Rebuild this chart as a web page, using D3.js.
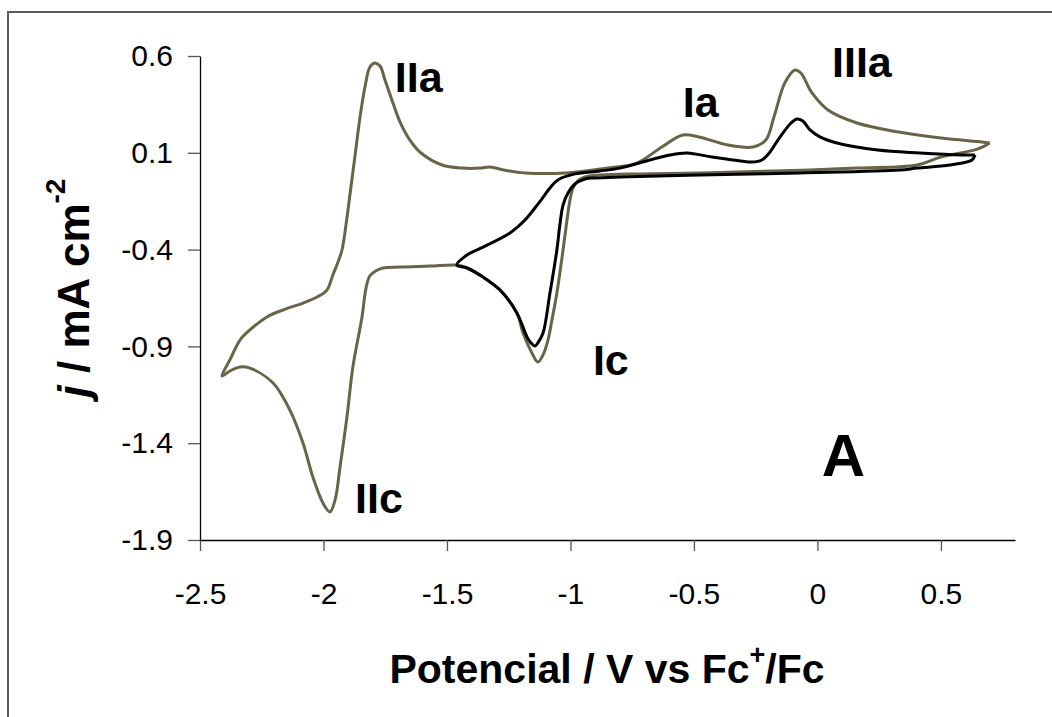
<!DOCTYPE html>
<html>
<head>
<meta charset="utf-8">
<script src="https://cdn.jsdelivr.net/npm/d3@7"></script>
<style>
  html, body { margin: 0; padding: 0; background: #fff; }
  svg { display: block; }
  text { font-family: Arial, "Liberation Sans", sans-serif; fill: #000; }
</style>
</head>
<body>
<svg id="chart" width="1052" height="717"></svg>
<script>
// Cyclic voltammogram: wide scan (olive) and narrow scan (black)
// Potential in V vs Fc+/Fc, current density in mA cm^-2

// Wide scan, starting at the positive vertex, sweeping cathodically first
const wideE = [0.698, 0.650, 0.500, 0.403, 0.160, -0.176, -0.476, -0.719, -0.881, -0.941, -0.970, -0.990, -1.002, -1.014, -1.030, -1.055, -1.075, -1.091, -1.111, -1.132, -1.156, -1.192, -1.217, -1.285, -1.354, -1.419, -1.460, -1.569, -1.690, -1.759, -1.787, -1.812, -1.828, -1.844, -1.881, -1.905, -1.933, -1.953, -1.974, -2.002, -2.043, -2.083, -2.136, -2.204, -2.298, -2.338, -2.379, -2.411,
  -2.379, -2.338, -2.298, -2.229, -2.164, -2.083, -2.026, -1.986, -1.962, -1.941, -1.925, -1.909, -1.893, -1.873, -1.852, -1.832, -1.812, -1.792, -1.771, -1.751, -1.723, -1.690, -1.650, -1.605, -1.520, -1.439, -1.366, -1.326, -1.269, -1.184, -1.018, -0.848, -0.731, -0.630, -0.545, -0.480, -0.362, -0.261, -0.209, -0.176, -0.132, -0.091, -0.067, -0.022, 0.043, 0.160, 0.330, 0.500, 0.666, 0.698];
const wideJ = [0.151, 0.120, 0.078, 0.037, 0.021, 0.006, -0.004, -0.009, -0.015, -0.025, -0.045, -0.082, -0.144, -0.247, -0.402, -0.624, -0.764, -0.867, -0.944, -0.981, -0.934, -0.831, -0.727, -0.609, -0.542, -0.495, -0.480, -0.485, -0.490, -0.495, -0.509, -0.535, -0.600, -0.748, -1.006, -1.265, -1.523, -1.693, -1.755, -1.709, -1.575, -1.399, -1.229, -1.089, -1.012, -1.006, -1.027, -1.053,
  -0.970, -0.867, -0.815, -0.748, -0.712, -0.676, -0.645, -0.609, -0.531, -0.464, -0.402, -0.273, -0.118, 0.078, 0.285, 0.440, 0.543, 0.564, 0.548, 0.476, 0.373, 0.259, 0.166, 0.099, 0.037, 0.021, 0.021, 0.027, 0.011, -0.004, -0.004, 0.021, 0.047, 0.130, 0.192, 0.182, 0.140, 0.130, 0.166, 0.285, 0.461, 0.528, 0.512, 0.409, 0.321, 0.254, 0.207, 0.176, 0.156, 0.151];

// Narrow scan, reversed at -1.46 V
const narrowE = [0.638, 0.626, 0.536, 0.403, 0.334, -0.071, -0.476, -0.800, -0.901, -0.941, -0.982, -1.010, -1.030, -1.043, -1.055, -1.083, -1.111, -1.132, -1.144, -1.160, -1.176, -1.217, -1.285, -1.354, -1.419, -1.460,
  -1.419, -1.354, -1.245, -1.184, -1.144, -1.119, -1.083, -1.051, -0.982, -0.881, -0.800, -0.678, -0.597, -0.528, -0.427, -0.342, -0.265, -0.225, -0.192, -0.160, -0.107, -0.083, -0.059, -0.030, 0.010, 0.079, 0.245, 0.415, 0.581, 0.638];
const narrowJ = [0.089, 0.063, 0.037, 0.021, 0.011, -0.004, -0.015, -0.025, -0.030, -0.035, -0.061, -0.108, -0.170, -0.273, -0.402, -0.624, -0.831, -0.882, -0.898, -0.882, -0.851, -0.727, -0.609, -0.542, -0.495, -0.480,
  -0.428, -0.387, -0.314, -0.247, -0.185, -0.144, -0.082, -0.040, -0.009, 0.006, 0.021, 0.063, 0.089, 0.099, 0.078, 0.063, 0.052, 0.063, 0.104, 0.166, 0.254, 0.275, 0.264, 0.218, 0.182, 0.151, 0.114, 0.099, 0.089, 0.089];

const xTickValues = [-2.5, -2, -1.5, -1, -0.5, 0, 0.5];
const xTickLabels = ["-2.5", "-2", "-1.5", "-1", "-0.5", "0", "0.5"];
const yTickValues = [0.6, 0.1, -0.4, -0.9, -1.4, -1.9];
const yTickLabels = ["0.6", "0.1", "-0.4", "-0.9", "-1.4", "-1.9"];

// Peak annotations (text, anchor potential, anchor current)
const peakNames = ["IIa", "Ia", "IIIa", "Ic", "IIc"];
const peakE = [-1.711, -0.545, 0.059, -0.909, -1.872];
const peakJ = [0.414, 0.285, 0.492, -1.048, -1.761];

const svg = d3.select("#chart");

// Outer frame
svg.append("rect")
  .attr("x", 8).attr("y", 12)
  .attr("width", 1070).attr("height", 730)
  .attr("fill", "none").attr("stroke", "#5a5a5a").attr("stroke-width", 2);

const x = d3.scaleLinear().domain([-2.5, 0.8]).range([200, 1015]);
const y = d3.scaleLinear().domain([-1.9, 0.6]).range([540, 56]);

// Axes
const xAxis = d3.axisBottom(x)
  .tickValues(xTickValues)
  .tickFormat((d, i) => xTickLabels[i])
  .tickSize(11).tickPadding(32).tickSizeOuter(0);
const yAxis = d3.axisLeft(y)
  .tickValues(yTickValues)
  .tickFormat((d, i) => yTickLabels[i])
  .tickSize(12).tickPadding(15).tickSizeOuter(0);

const gx = svg.append("g").attr("transform", `translate(0,${y(-1.9)})`).call(xAxis);
const gy = svg.append("g").attr("transform", `translate(${x(-2.5)},0)`).call(yAxis);
[gx, gy].forEach(g => {
  g.select(".domain").attr("stroke", "#000").attr("stroke-width", 1.3);
  g.selectAll(".tick line").attr("stroke", "#555").attr("stroke-width", 1.3);
  g.selectAll(".tick text")
    .attr("font-family", "Arial, 'Liberation Sans', sans-serif")
    .attr("font-size", 30).attr("fill", "#000");
});

// Curves
const line = d3.line()
  .x(d => x(d[0]))
  .y(d => y(d[1]))
  .curve(d3.curveCatmullRom.alpha(0.5));

const widePts = wideE.map((e, i) => [e, wideJ[i]]);
const narrowPts = narrowE.map((e, i) => [e, narrowJ[i]]);

svg.append("path").datum(widePts)
  .attr("d", line).attr("fill", "none")
  .attr("stroke", "#676548").attr("stroke-width", 3).attr("stroke-linejoin", "round");
svg.append("path").datum(narrowPts)
  .attr("d", line).attr("fill", "none")
  .attr("stroke", "#000").attr("stroke-width", 3).attr("stroke-linejoin", "round");

// Peak labels
svg.append("g").selectAll("text")
  .data(peakNames)
  .join("text")
  .attr("x", (d, i) => x(peakE[i]))
  .attr("y", (d, i) => y(peakJ[i]))
  .attr("font-size", 43).attr("font-weight", "bold")
  .text(d => d);

// Panel letter
svg.append("text")
  .attr("x", x(0.018)).attr("y", y(-1.569))
  .attr("font-size", 60).attr("font-weight", "bold")
  .text("A");

// X axis title
const xt = svg.append("text")
  .attr("x", 607).attr("y", 683)
  .attr("text-anchor", "middle")
  .attr("font-size", 41).attr("font-weight", "bold");
xt.append("tspan").text("Potencial / V vs Fc");
xt.append("tspan").attr("font-size", 27).attr("dy", -19).text("+");
xt.append("tspan").attr("dy", 19).text("/Fc");

// Y axis title
const yt = svg.append("text")
  .attr("transform", "translate(89,288) rotate(-90)")
  .attr("text-anchor", "middle")
  .attr("font-size", 44).attr("font-weight", "bold");
yt.append("tspan").attr("font-style", "italic").text("j");
yt.append("tspan").text(" / mA cm");
yt.append("tspan").attr("font-size", 28).attr("dy", -24).text("-2");
</script>
</body>
</html>
